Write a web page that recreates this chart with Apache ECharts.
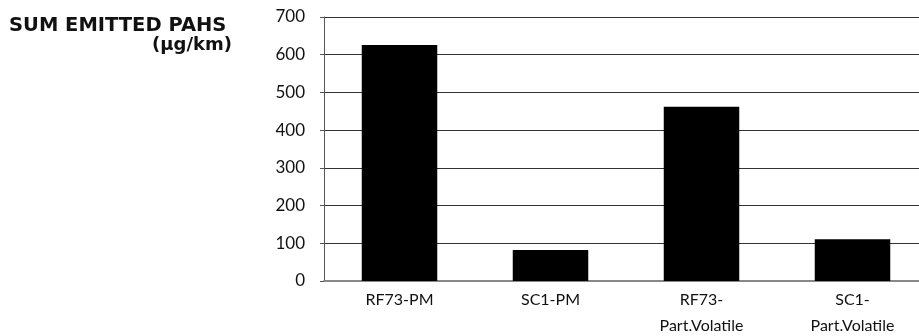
<!DOCTYPE html>
<html>
<head>
<meta charset="utf-8">
<script src="https://cdn.jsdelivr.net/npm/echarts@6/dist/echarts.min.js"></script>
<style>
  html, body { margin: 0; padding: 0; background: #fff; overflow: hidden; }
  /* plot runs a few pixels past the right edge of the window, like the original crop */
  #main { width: 928px; height: 336px; }
</style>
</head>
<body>
<div id="main"></div>
<script>
// categories on the x axis
var categories = ['RF73-PM', 'SC1-PM', 'RF73-\nPart.Volatile', 'SC1-\nPart.Volatile'];
// sum of emitted PAHs, µg/km
var pahValues = [626, 82, 462, 111];
var yTicks = [0, 700, 100]; // min, max, step

var chart = echarts.init(document.getElementById('main'), null, { renderer: 'canvas' });

var option = {
  animation: false,
  backgroundColor: '#fff',
  title: [{
    text: 'SUM EMITTED PAHS',
    left: 9,
    top: 16,
    padding: 0,
    textStyle: { fontFamily: 'DejaVu Sans', fontWeight: 'bold', fontSize: 19.5, color: '#111' }
  }, {
    text: '(μg/km)',
    right: 696,
    top: 36,
    padding: 0,
    textStyle: { fontFamily: 'DejaVu Sans', fontWeight: 'bold', fontSize: 18, color: '#111' }
  }],
  grid: { left: 324, right: 0, top: 17, bottom: 55, containLabel: false, outerBoundsMode: 'none' },
  xAxis: {
    type: 'category',
    data: categories,
    axisLine: { lineStyle: { color: '#888', width: 2 } },
    axisTick: { show: false },
    axisLabel: {
      interval: 0,
      margin: 6,
      color: '#111',
      fontFamily: 'Lato',
      fontSize: 16,
      lineHeight: 26
    }
  },
  yAxis: {
    type: 'value',
    min: yTicks[0],
    max: yTicks[1],
    interval: yTicks[2],
    axisLine: { show: true, lineStyle: { color: '#555', width: 1 } },
    axisTick: { show: true, length: 4, lineStyle: { color: '#555' } },
    axisLabel: { margin: 19, color: '#111', fontFamily: 'Lato', fontSize: 17 },
    splitLine: { lineStyle: { color: '#333', width: 1 } }
  },
  series: [{
    type: 'bar',
    data: pahValues,
    barWidth: '50%',
    itemStyle: { color: '#000' }
  }]
};

chart.setOption(option);
</script>
</body>
</html>
